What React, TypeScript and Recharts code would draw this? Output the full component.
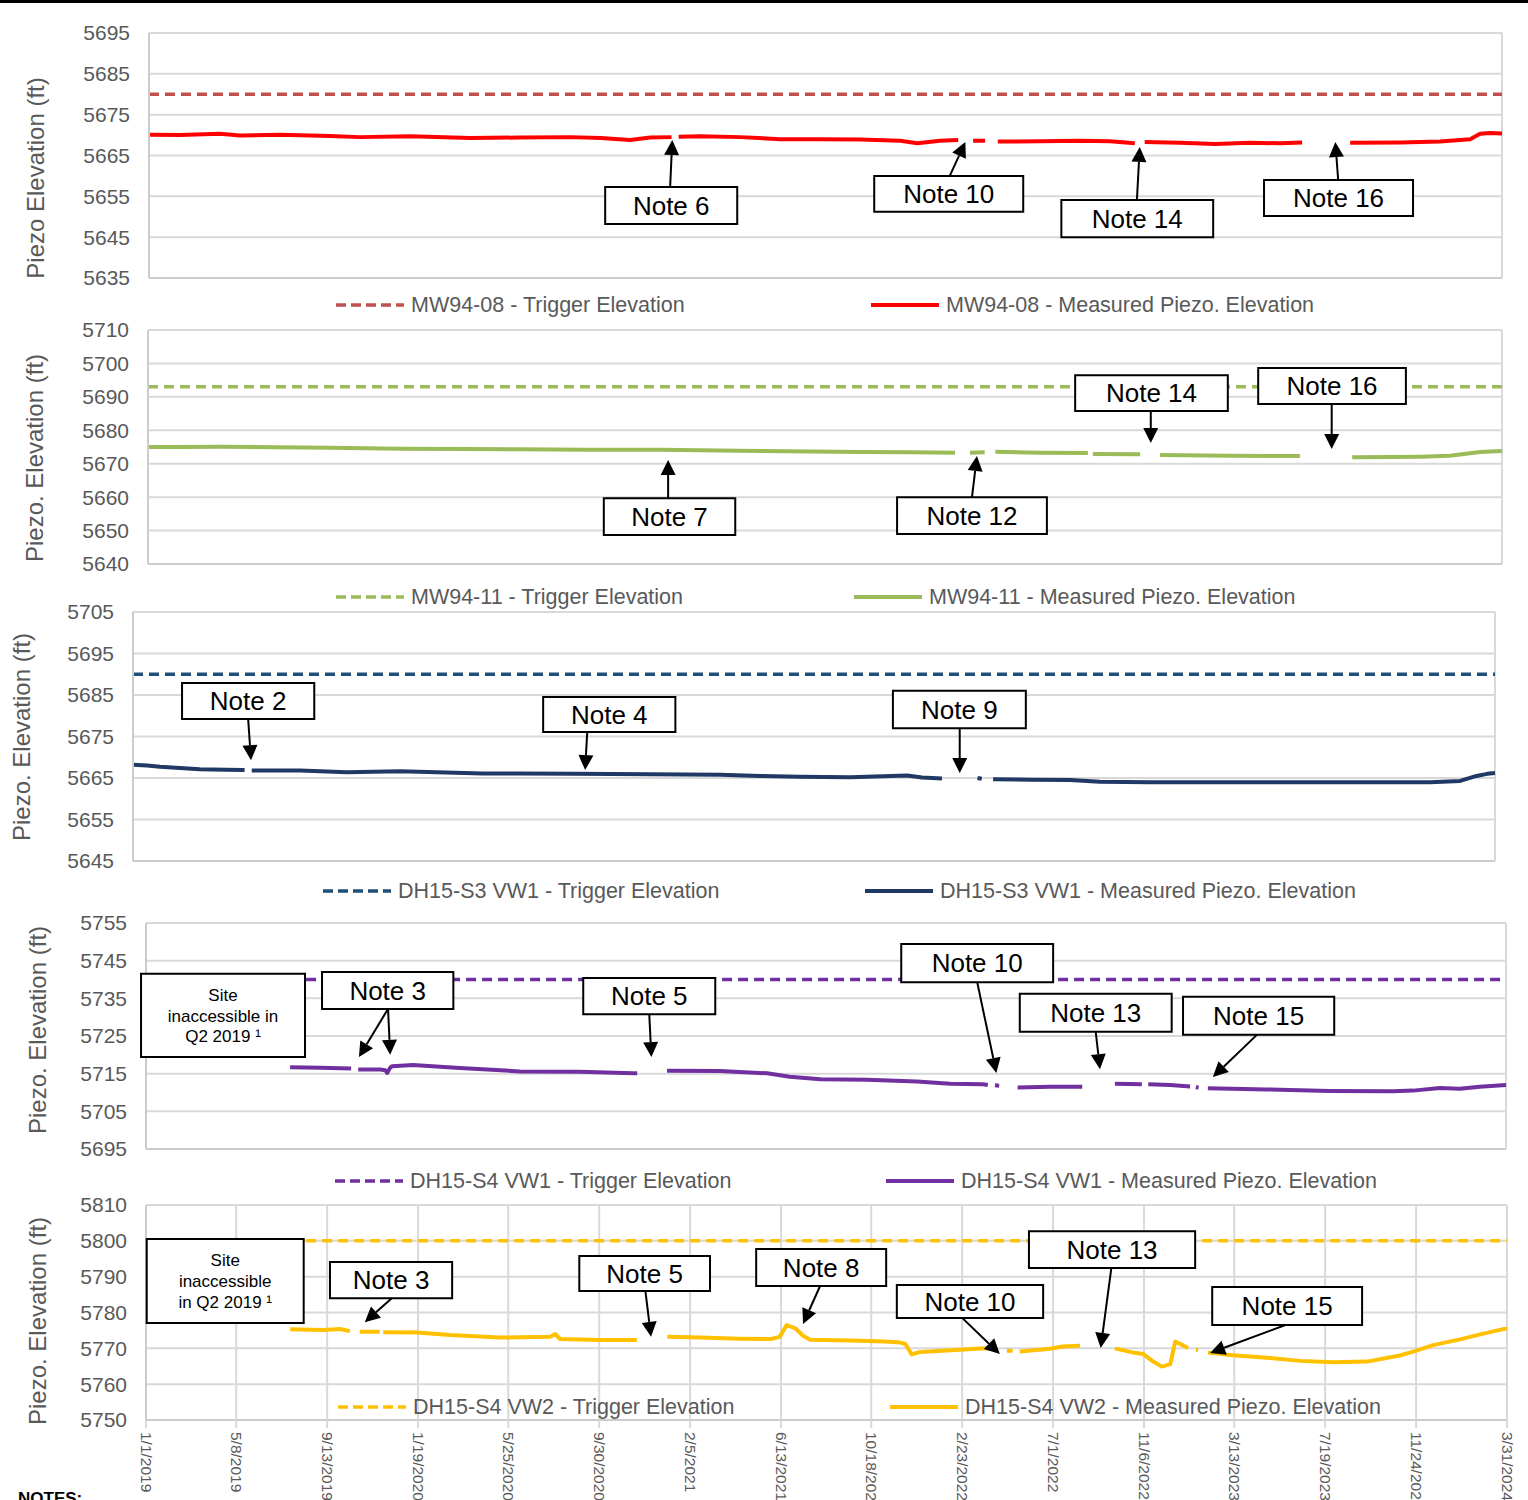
import {
  LineChart,
  Line,
  XAxis,
  YAxis,
  CartesianGrid,
  Legend,
  ReferenceArea,
  ReferenceLine,
} from "recharts";

const FONT = '"Liberation Sans", Arial, sans-serif';
const TEXT_GREY = "#595959";
const GRID = "#d9d9d9";
const AXIS = "#cccccc";

// date ticks shared by every panel (only the bottom one prints them)
const tickDates = [
  "1/1/2019", "5/8/2019", "9/13/2019", "1/19/2020", "5/25/2020", "9/30/2020",
  "2/5/2021", "6/13/2021", "10/18/2021", "2/23/2022", "7/1/2022", "11/6/2022",
  "3/13/2023", "7/19/2023", "11/24/2023", "3/31/2024",
];

const START = Date.UTC(2019, 0, 1);
function dayOf(s: string) {
  const [m, d, y] = s.split("/").map(Number);
  return Math.round((Date.UTC(y, m - 1, d) - START) / 86400000);
}
const xTicks = tickDates.map(dayOf);
const lastDay = xTicks[xTicks.length - 1];

// ---- MW94-08 ----
const mw9408Ticks = [5635, 5645, 5655, 5665, 5675, 5685, 5695];
const mw9408Trigger = 5680;
const mw9408Days = [
  0, 44, 100, 129, 185, 256, 299, 370, 455, 525, 596, 640, 681, 710, 740, 744, 750,
  780, 837, 894, 950, 1007, 1064, 1088, 1120, 1146, 1155, 1167, 1184, 1190, 1202,
  1262, 1318, 1361, 1396, 1404, 1410, 1460, 1510, 1559, 1602, 1633, 1665, 1701,
  1772, 1828, 1871, 1885, 1899, 1916,
];
const mw9408Elev = [
  5670.1, 5670.0, 5670.3, 5669.9, 5670.1, 5669.8, 5669.5, 5669.7, 5669.3, 5669.4,
  5669.5, 5669.3, 5668.8, 5669.4, 5669.5, null, 5669.6, 5669.7, 5669.5, 5669.0,
  5669.0, 5668.9, 5668.6, 5668.0, 5668.6, 5668.8, null, 5668.6, 5668.6, null,
  5668.4, 5668.5, 5668.6, 5668.5, 5668.0, null, 5668.3, 5668.1, 5667.8, 5668.1,
  5668.0, 5668.2, null, 5668.1, 5668.2, 5668.4, 5669.0, 5670.3, 5670.5, 5670.4,
];

// ---- MW94-11 ----
const mw9411Ticks = [5640, 5650, 5660, 5670, 5680, 5690, 5700, 5710];
const mw9411Trigger = 5693;
const mw9411Days = [
  0, 50, 102, 180, 258, 357, 450, 526, 620, 725, 866, 1008, 1080, 1142, 1152, 1163,
  1184, 1191, 1199, 1262, 1330, 1334, 1337, 1404, 1418, 1432, 1531, 1630, 1665,
  1704, 1760, 1800, 1842, 1885, 1916,
];
const mw9411Elev = [
  5675.0, 5675.0, 5675.1, 5674.9, 5674.8, 5674.5, 5674.4, 5674.3, 5674.2, 5674.2,
  5673.8, 5673.5, 5673.4, 5673.3, null, 5673.3, 5673.4, null, 5673.6, 5673.3,
  5673.2, null, 5672.9, 5672.8, null, 5672.6, 5672.4, 5672.3, null, 5671.9,
  5672.0, 5672.1, 5672.4, 5673.5, 5673.8,
];

// ---- DH15-S3 VW1 ----
const dh15s3Ticks = [5645, 5655, 5665, 5675, 5685, 5695, 5705];
const dh15s3Trigger = 5690;
const dh15s3Days = [
  0, 20, 38, 94, 130, 157, 162, 167, 235, 301, 376, 440, 492, 544, 620, 727, 826,
  882, 938, 1009, 1089, 1110, 1138, 1160, 1188, 1194, 1200, 1210, 1262, 1318, 1360,
  1431, 1571, 1712, 1825, 1867, 1890, 1905, 1916,
];
const dh15s3Elev = [
  5668.2, 5668.0, 5667.7, 5667.1, 5667.0, 5666.9, null, 5666.8, 5666.8, 5666.4,
  5666.6, 5666.3, 5666.1, 5666.1, 5666.0, 5665.9, 5665.8, 5665.5, 5665.3, 5665.2,
  5665.6, 5665.1, 5664.9, null, 5665.0, 5664.8, null, 5664.7, 5664.6, 5664.5,
  5664.1, 5664.0, 5664.0, 5664.0, 5664.0, 5664.3, 5665.5, 5666.0, 5666.2,
];

// ---- DH15-S4 VW1 ----
const vw1Ticks = [5695, 5705, 5715, 5725, 5735, 5745, 5755];
const vw1Trigger = 5740;
const vw1Days = [
  203, 245, 289, 294, 299, 330, 337, 340, 344, 347, 376, 442, 527, 611, 686, 692,
  712, 734, 809, 875, 907, 950, 1016, 1086, 1133, 1179, 1186, 1192, 1196, 1202,
  1215, 1228, 1274, 1319, 1340, 1365, 1403, 1407, 1412, 1443, 1471, 1475, 1479,
  1483, 1490, 1496, 1579, 1668, 1757, 1785, 1823, 1851, 1879, 1916,
];
const vw1Elev = [
  5716.7, 5716.6, 5716.4, null, 5716.1, 5716.1, 5715.9, 5715.2, 5716.6, 5717.0,
  5717.3, 5716.5, 5715.6, 5715.5, 5715.1, 5715.1, null, 5715.8, 5715.7, 5715.1,
  5714.2, 5713.5, 5713.4, 5712.9, 5712.3, 5712.2, 5712.0, null, 5711.9, 5711.8,
  null, 5711.3, 5711.5, 5711.5, null, 5712.3, 5712.2, null, 5712.2, 5712.0,
  5711.6, null, 5711.4, 5711.3, null, 5711.1, 5710.8, 5710.4, 5710.3, 5710.5,
  5711.2, 5711.0, 5711.5, 5712.0,
];

// ---- DH15-S4 VW2 ----
const vw2Ticks = [5750, 5760, 5770, 5780, 5790, 5800, 5810];
const vw2Trigger = 5800;
const vw2Days = [
  203, 249, 273, 287, 294, 301, 329, 331, 334, 382, 428, 498, 527, 569, 576, 583,
  639, 691, 712, 734, 780, 836, 880, 892, 902, 914, 925, 935, 991, 1040, 1062,
  1069, 1078, 1090, 1146, 1181, 1198, 1205, 1212, 1220, 1225, 1230, 1273, 1290,
  1315, 1340, 1364, 1390, 1404, 1418, 1430, 1442, 1449, 1459, 1467, 1473, 1478,
  1481, 1488, 1495, 1530, 1578, 1625, 1671, 1719, 1765, 1784, 1812, 1850, 1874,
  1909, 1916,
];
const vw2Elev = [
  5775.3, 5775.1, 5775.4, 5774.8, null, 5774.6, 5774.6, null, 5774.5, 5774.4,
  5773.7, 5773.0, 5773.1, 5773.2, 5774.0, 5772.6, 5772.3, 5772.3, null, 5773.2,
  5773.0, 5772.7, 5772.6, 5773.2, 5776.5, 5775.6, 5773.5, 5772.4, 5772.2, 5771.9,
  5771.6, 5771.2, 5768.3, 5769.0, 5769.6, 5770.0, 5769.6, null, 5769.3, 5769.3,
  null, 5769.1, 5769.9, 5770.5, 5770.7, null, 5770.0, 5768.8, 5768.4, 5766.3,
  5764.9, 5765.6, 5771.9, 5770.9, 5770.0, null, 5769.6, 5769.5, null, 5768.8,
  5768.1, 5767.4, 5766.5, 5766.1, 5766.3, 5768.0, 5769.1, 5770.9, 5772.5, 5773.7,
  5775.3, 5775.5,
];

// callouts, in chart units: box corners (day, elevation) and arrows [fromDay, fromElev, toDay, toElev]
interface Note {
  lines: string[];
  x1: number;
  x2: number;
  y1: number;
  y2: number;
  size?: number;
  arrows: number[][];
}

const mw9408Notes: Note[] = [
  { lines: ["Note 6"], x1: 646, x2: 833, y1: 5648.2, y2: 5657.3, arrows: [[738, 5657.3, 741, 5668.8]] },
  { lines: ["Note 10"], x1: 1027, x2: 1238, y1: 5651.2, y2: 5660.0, arrows: [[1134, 5660.0, 1156, 5668.3]] },
  { lines: ["Note 14"], x1: 1292, x2: 1507, y1: 5645.0, y2: 5654.1, arrows: [[1399, 5654.1, 1403, 5667.1]] },
  { lines: ["Note 16"], x1: 1579, x2: 1790, y1: 5650.2, y2: 5659.0, arrows: [[1684, 5659.0, 1680, 5668.3]] },
];
const mw9411Notes: Note[] = [
  { lines: ["Note 7"], x1: 645, x2: 831, y1: 5648.7, y2: 5659.7, arrows: [[736, 5659.7, 736, 5671.1]] },
  { lines: ["Note 12"], x1: 1060, x2: 1272, y1: 5649.0, y2: 5660.0, arrows: [[1166, 5660.0, 1173, 5672.3]] },
  { lines: ["Note 14"], x1: 1312, x2: 1528, y1: 5685.8, y2: 5696.5, arrows: [[1419, 5685.8, 1419, 5676.2]] },
  { lines: ["Note 16"], x1: 1571, x2: 1780, y1: 5687.9, y2: 5698.6, arrows: [[1675, 5687.9, 1675, 5674.4]] },
];
const dh15s3Notes: Note[] = [
  { lines: ["Note 2"], x1: 69, x2: 255, y1: 5679.2, y2: 5687.9, arrows: [[162, 5679.2, 166, 5669.3]] },
  { lines: ["Note 4"], x1: 577, x2: 763, y1: 5676.1, y2: 5684.5, arrows: [[639, 5676.1, 636, 5666.9]] },
  { lines: ["Note 9"], x1: 1069, x2: 1256, y1: 5677.0, y2: 5686.0, arrows: [[1163, 5677.0, 1163, 5666.2]] },
];
const vw1Notes: Note[] = [
  { lines: ["Site", "inaccessible in", "Q2 2019 \u00b9"], size: 17, x1: -7, x2: 224, y1: 5719.4, y2: 5741.5, arrows: [] },
  {
    lines: ["Note 3"], x1: 248, x2: 433, y1: 5732.2, y2: 5742.0,
    arrows: [[341, 5732.2, 300, 5719.4], [341, 5732.2, 344, 5720.0]],
  },
  { lines: ["Note 5"], x1: 616, x2: 802, y1: 5730.8, y2: 5740.4, arrows: [[709, 5730.8, 712, 5719.4]] },
  { lines: ["Note 10"], x1: 1064, x2: 1278, y1: 5739.3, y2: 5749.4, arrows: [[1171, 5739.3, 1198, 5715.2]] },
  { lines: ["Note 13"], x1: 1231, x2: 1445, y1: 5726.1, y2: 5736.2, arrows: [[1338, 5726.1, 1344, 5716.2]] },
  { lines: ["Note 15"], x1: 1461, x2: 1674, y1: 5725.3, y2: 5735.4, arrows: [[1565, 5725.3, 1503, 5714.1]] },
];
const vw2Notes: Note[] = [
  { lines: ["Site", "inaccessible", "in Q2 2019 \u00b9"], size: 17, x1: 1, x2: 222, y1: 5777.1, y2: 5800.5, arrows: [] },
  { lines: ["Note 3"], x1: 259, x2: 431, y1: 5784.0, y2: 5794.1, arrows: [[346, 5784.0, 308, 5777.3]] },
  { lines: ["Note 5"], x1: 610, x2: 794, y1: 5786.0, y2: 5795.8, arrows: [[703, 5786.0, 711, 5773.2]] },
  { lines: ["Note 8"], x1: 859, x2: 1042, y1: 5787.4, y2: 5797.7, arrows: [[949, 5787.4, 925, 5776.8]] },
  { lines: ["Note 10"], x1: 1057, x2: 1263, y1: 5778.5, y2: 5787.7, arrows: [[1149, 5778.5, 1202, 5768.4]] },
  { lines: ["Note 13"], x1: 1243, x2: 1477, y1: 5792.4, y2: 5802.7, arrows: [[1359, 5792.4, 1344, 5770.1]] },
  { lines: ["Note 15"], x1: 1501, x2: 1712, y1: 5776.5, y2: 5787.1, arrows: [[1604, 5776.5, 1498, 5768.7]] },
];

function AxisTitle({ tx, ty, caption }: { tx: number; ty: number; caption: string }) {
  return (
    <text
      x={tx}
      y={ty}
      transform={`rotate(-90 ${tx} ${ty})`}
      textAnchor="middle"
      dominantBaseline="central"
      fontSize={24}
      fill={TEXT_GREY}
      fontFamily={FONT}
    >
      {caption}
    </text>
  );
}

function DateTick({ x, y, payload }: any) {
  const i = xTicks.indexOf(payload.value);
  return (
    <text
      x={x}
      y={y}
      transform={`rotate(90 ${x} ${y})`}
      textAnchor="start"
      dominantBaseline="central"
      fontSize={15.5}
      fill={TEXT_GREY}
      fontFamily={FONT}
    >
      {i >= 0 ? tickDates[i] : ""}
    </text>
  );
}

function BoxText({ viewBox, lines, size }: any) {
  if (!viewBox) return null;
  const { x, y, width, height } = viewBox;
  const lh = size * 1.22;
  const cx = x + width / 2;
  const cy = y + height / 2;
  const first = cy - ((lines.length - 1) * lh) / 2;
  return (
    <text textAnchor="middle" fontFamily={FONT} fontSize={size} fill="#000">
      {lines.map((l: string, i: number) => (
        <tspan key={i} x={cx} y={first + i * lh + size * 0.36}>
          {l}
        </tspan>
      ))}
    </text>
  );
}

function Arrow(props: any) {
  const { x1, y1, x2, y2 } = props;
  const dx = x2 - x1;
  const dy = y2 - y1;
  const len = Math.hypot(dx, dy) || 1;
  const ux = dx / len;
  const uy = dy / len;
  const head = 15;
  const half = 7.5;
  const bx = x2 - ux * head;
  const by = y2 - uy * head;
  return (
    <g>
      <line x1={x1} y1={y1} x2={bx} y2={by} stroke="#000" strokeWidth={2} />
      <polygon
        points={`${x2},${y2} ${bx - uy * half},${by + ux * half} ${bx + uy * half},${by - ux * half}`}
        fill="#000"
      />
    </g>
  );
}

function LegendRow({ payload, xs }: any) {
  const list = payload || [];
  const trig = list.find((e: any) => String(e.value).includes("Trigger"));
  const meas = list.find((e: any) => String(e.value).includes("Measured"));
  return (
    <div style={{ position: "relative", height: 26 }}>
      {[trig, meas].map((e: any, i: number) =>
        e ? (
          <div
            key={i}
            style={{
              position: "absolute",
              left: xs[i],
              top: 0,
              height: 26,
              display: "flex",
              alignItems: "center",
              whiteSpace: "nowrap",
            }}
          >
            <svg width={70} height={8}>
              <line
                x1={1}
                x2={69}
                y1={4}
                y2={4}
                stroke={e.color}
                strokeWidth={i === 0 ? 3.5 : 4}
                strokeDasharray={i === 0 ? "10 5" : undefined}
              />
            </svg>
            <span style={{ marginLeft: 6, fontSize: 21.5, color: TEXT_GREY, fontFamily: FONT }}>{e.value}</span>
          </div>
        ) : null
      )}
    </div>
  );
}

interface PanelProps {
  top: number;
  bottom: number;
  left: number;
  right: number;
  yTicks: number[];
  title: string;
  titleX: number;
  titleY: number;
  well: string;
  color: string;
  triggerColor: string;
  trigger: number;
  days: number[];
  elev: (number | null)[];
  notes: Note[];
  legendY: number;
  legendX: number[];
  showDates?: boolean;
}

function Panel(p: PanelProps) {
  const padTop = 20;
  const xh = p.showDates ? 80 : 10;
  const padBottom = p.showDates ? 0 : 45;
  const chartTop = p.top - padTop;
  const height = padTop + (p.bottom - p.top) + xh + padBottom;
  const measured = p.days.map((d, i) => ({ day: d, elev: p.elev[i] }));
  const trig = [
    { day: p.days[0], elev: p.trigger },
    { day: lastDay, elev: p.trigger },
  ];
  return (
    <div style={{ position: "absolute", left: 0, top: chartTop }}>
      <LineChart
        width={1528}
        height={height}
        margin={{ top: padTop, right: 1528 - p.right, bottom: padBottom, left: 0 }}
      >
        <CartesianGrid stroke={GRID} strokeWidth={2} />
        <XAxis
          type="number"
          dataKey="day"
          domain={[0, lastDay]}
          ticks={xTicks}
          interval={0}
          height={xh}
          axisLine={{ stroke: AXIS, strokeWidth: 2 }}
          tickLine={{ stroke: GRID, strokeWidth: 2 }}
          tickSize={8}
          tickMargin={4}
          tick={p.showDates ? <DateTick /> : false}
        />
        <YAxis
          type="number"
          domain={[p.yTicks[0], p.yTicks[p.yTicks.length - 1]]}
          ticks={p.yTicks}
          interval={0}
          width={p.left}
          axisLine={{ stroke: AXIS, strokeWidth: 2 }}
          tickLine={false}
          tickSize={0}
          tickMargin={19}
          tick={{ fill: TEXT_GREY, fontSize: 21, fontFamily: FONT }}
          label={<AxisTitle tx={p.titleX} ty={p.titleY - chartTop} caption={p.title} />}
        />
        <Line
          data={trig}
          dataKey="elev"
          name={`${p.well} - Trigger Elevation`}
          stroke={p.triggerColor}
          strokeWidth={3.5}
          strokeDasharray="10 6"
          dot={false}
          activeDot={false}
          isAnimationActive={false}
        />
        <Line
          data={measured}
          dataKey="elev"
          name={`${p.well} - Measured Piezo. Elevation`}
          stroke={p.color}
          strokeWidth={4}
          strokeLinejoin="round"
          dot={false}
          activeDot={false}
          connectNulls={false}
          isAnimationActive={false}
        />
        <Legend
          layout="horizontal"
          verticalAlign="middle"
          align="center"
          wrapperStyle={{ left: 0, top: p.legendY - chartTop - 13, width: 1528, height: 26 }}
          content={<LegendRow xs={p.legendX} />}
        />
        {p.notes.map((n, i) => (
          <ReferenceArea
            key={`box${i}`}
            x1={n.x1}
            x2={n.x2}
            y1={n.y1}
            y2={n.y2}
            ifOverflow="visible"
            fill="#ffffff"
            fillOpacity={1}
            stroke="#000"
            strokeWidth={2}
            zIndex={1500}
            label={<BoxText lines={n.lines} size={n.size ?? 26} />}
          />
        ))}
        {p.notes.flatMap((n, i) =>
          n.arrows.map((a, j) => (
            <ReferenceLine
              key={`arr${i}-${j}`}
              segment={[
                { x: a[0], y: a[1] },
                { x: a[2], y: a[3] },
              ]}
              ifOverflow="visible"
              stroke="#000"
              strokeWidth={2}
              zIndex={1600}
              shape={Arrow}
            />
          ))
        )}
      </LineChart>
    </div>
  );
}

export default function App() {
  return (
    <div
      style={{
        position: "absolute",
        left: 0,
        top: 0,
        width: 1528,
        height: 1500,
        overflow: "hidden",
        background: "#fff",
        fontFamily: FONT,
      }}
    >
      <div style={{ position: "absolute", left: 0, top: 0, width: 1528, height: 3, background: "#000" }} />
      <Panel
        top={33}
        bottom={278}
        left={149}
        right={1502}
        yTicks={mw9408Ticks}
        title="Piezo Elevation (ft)"
        titleX={35}
        titleY={178}
        well="MW94-08"
        color="#ff0000"
        triggerColor="#c0504d"
        trigger={mw9408Trigger}
        days={mw9408Days}
        elev={mw9408Elev}
        notes={mw9408Notes}
        legendY={305}
        legendX={[335, 870]}
      />
      <Panel
        top={330}
        bottom={564}
        left={148}
        right={1502}
        yTicks={mw9411Ticks}
        title="Piezo. Elevation (ft)"
        titleX={34}
        titleY={458}
        well="MW94-11"
        color="#9bbb59"
        triggerColor="#9bbb59"
        trigger={mw9411Trigger}
        days={mw9411Days}
        elev={mw9411Elev}
        notes={mw9411Notes}
        legendY={597}
        legendX={[335, 853]}
      />
      <Panel
        top={612}
        bottom={861}
        left={133}
        right={1495}
        yTicks={dh15s3Ticks}
        title="Piezo. Elevation (ft)"
        titleX={21}
        titleY={737}
        well="DH15-S3 VW1"
        color="#1f3864"
        triggerColor="#1f4e79"
        trigger={dh15s3Trigger}
        days={dh15s3Days}
        elev={dh15s3Elev}
        notes={dh15s3Notes}
        legendY={891}
        legendX={[322, 864]}
      />
      <Panel
        top={923}
        bottom={1149}
        left={146}
        right={1506}
        yTicks={vw1Ticks}
        title="Piezo. Elevation (ft)"
        titleX={37}
        titleY={1030}
        well="DH15-S4 VW1"
        color="#7030a0"
        triggerColor="#7030a0"
        trigger={vw1Trigger}
        days={vw1Days}
        elev={vw1Elev}
        notes={vw1Notes}
        legendY={1181}
        legendX={[334, 885]}
      />
      <Panel
        top={1205}
        bottom={1420}
        left={146}
        right={1507}
        yTicks={vw2Ticks}
        title="Piezo. Elevation (ft)"
        titleX={37}
        titleY={1321}
        well="DH15-S4 VW2"
        color="#ffc000"
        triggerColor="#ffc000"
        trigger={vw2Trigger}
        days={vw2Days}
        elev={vw2Elev}
        notes={vw2Notes}
        legendY={1407}
        legendX={[337, 889]}
        showDates
      />
      <div
        style={{
          position: "absolute",
          left: 18,
          top: 1489,
          fontSize: 17,
          lineHeight: "20px",
          fontWeight: "bold",
          color: "#000",
        }}
      >
        NOTES:
      </div>
    </div>
  );
}
